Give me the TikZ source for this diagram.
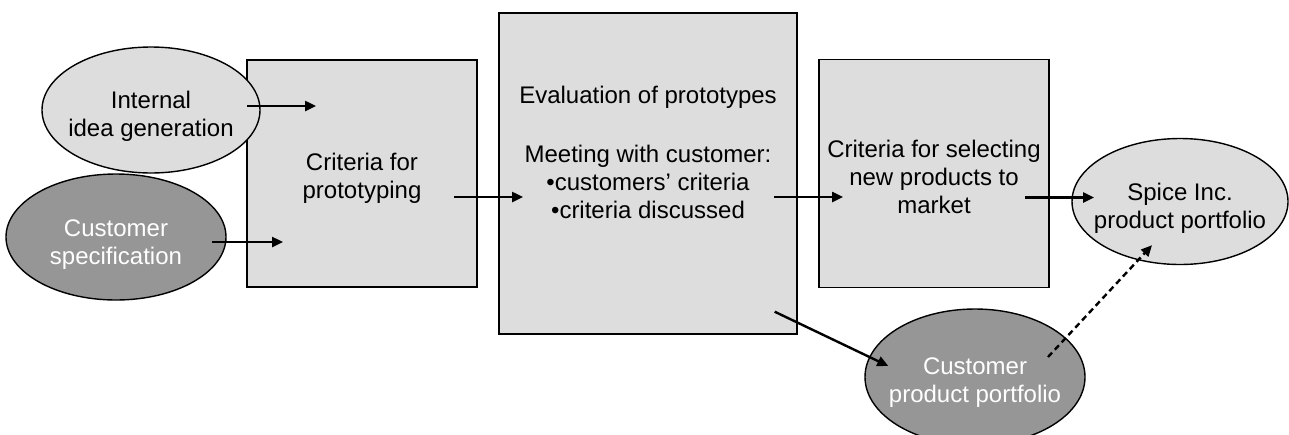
\documentclass[tikz,border=0pt]{standalone}
\usepackage{fontspec}
\setmainfont{Liberation Sans}
\usetikzlibrary{positioning,shapes.geometric,arrows.meta}
\definecolor{lightfill}{HTML}{DDDDDD}
\definecolor{darkfill}{HTML}{969696}
\newcommand{\topgap}[1]{\rule{0pt}{#1}}

\begin{document}
\begin{tikzpicture}[x=0.5pt,y=-0.5pt,on grid,font=\fontsize{12}{14}\selectfont,
    box/.style={draw,line width=0.7pt,fill=lightfill,align=center,inner sep=0pt},
    lightell/.style={ellipse,draw,line width=0.7pt,fill=lightfill,align=center,inner xsep=-8pt,inner ysep=0pt},
    darkell/.style={ellipse,draw,line width=0.7pt,fill=darkfill,text=white,align=center,inner xsep=-8pt,inner ysep=0pt},
    arr/.style={-{Triangle[length=5.5pt,width=5pt]},line width=1.2pt}]
    \useasboundingbox (0,0) rectangle (1289,434);
    \node[box,minimum width=115pt,minimum height=113.5pt] (proto) at (362,173.5) {\topgap{13.5pt}Criteria for\\prototyping};
    \node[box,minimum width=149pt,minimum height=160.5pt] (eval) [right=143pt of proto]
        {Evaluation of prototypes\\[15.5pt]Meeting with customer:\\•customers’ criteria\\•criteria discussed\rule[-21.5pt]{0pt}{21.5pt}};
    \node[box,minimum width=115pt,minimum height=114pt] (select) [right=143pt of eval] {\topgap{12pt}Criteria for selecting\\new products to\\market};
    \node[lightell,minimum width=108pt,minimum height=63pt] (spice) [below right=14pt and 123pt of select] {\topgap{15pt}Spice Inc.\\product portfolio};
    \node[lightell,minimum width=109pt,minimum height=63pt] (internal) [above left=31.75pt and 105.5pt of proto] {\topgap{14.5pt}Internal\\idea generation};
    \node[darkell,minimum width=110pt,minimum height=63pt] (custspec) [below left=31.75pt and 123pt of proto] {\topgap{15.5pt}Customer\\specification};
    \node[darkell,minimum width=110pt,minimum height=68pt] (custport) [below right=101.75pt and 163.5pt of eval] {\topgap{14pt}Customer\\product portfolio};
    % inputs
    \draw[arr,shorten <=48pt,shorten >=23pt] ([yshift=2pt]internal.center) -- ([yshift=2pt]internal.center -| proto.center);
    \draw[arr,shorten <=48pt,shorten >=39.5pt] ([yshift=-2.5pt]custspec.center) -- ([yshift=-2.5pt]custspec.center -| proto.center);
    % main flow
    \draw[arr,shorten <=46pt,shorten >=62.5pt] ([yshift=-11.75pt]proto.center) -- ([yshift=-11.75pt]proto.center -| eval.center);
    \draw[arr,shorten <=63pt,shorten >=45.5pt] ([yshift=-11.75pt]eval.center) -- ([yshift=-11.75pt]eval.center -| select.center);
    \draw[arr,shorten <=45.5pt,shorten >=43pt] ([yshift=-12pt]select.center) -- ([yshift=-12pt]select.center -| spice.center);
    \draw[arr] ([shift={(-11.5pt,11.5pt)}]eval.south east) -- ([shift={(12pt,5.5pt)}]custport.west);
    \draw[arr,dash pattern=on 3pt off 2pt] ([shift={(36.5pt,10pt)}]custport.center) -- ([shift={(-14pt,10pt)}]spice.south);
\end{tikzpicture}
\end{document}
